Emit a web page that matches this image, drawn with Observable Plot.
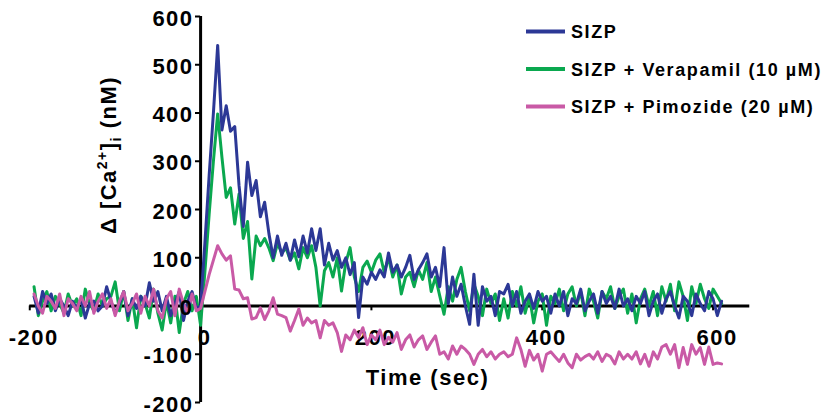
<!DOCTYPE html>
<html><head><meta charset="utf-8">
<script src="https://cdn.jsdelivr.net/npm/d3@7"></script>
<script src="https://cdn.jsdelivr.net/npm/@observablehq/plot@0.6"></script>
<style>
body{margin:0;background:#fff;}
#chart{position:relative;width:831px;height:417px;}
#chart svg text{letter-spacing:1.5px;}
</style></head><body><div id="chart"></div>
<script>
// sampling grid (sec)
const times = d3.range(-195, 611, 5);

const blue = [
20, -15, 30, 5, 25, -10, 15, 0, -20, 10,
-5, 15, -25, 5, 10, -10, 0, 40, 10, -15,
5, 30, -20, 15, -5, 20, 0, 48, 10, 30,
-10, 20, -20, 5, 30, -30, 10, 30, -5, 0,
130, 270, 400, 540, 365, 415, 362, 372, 250, 165,
298, 229, 260, 185, 215, 150, 100, 145, 105, 130,
95, 137, 102, 145, 110, 160, 115, 160, 85, 130,
95, 115, 80, 100, 65, 90, -24, 60, 45, 70,
55, 75, 60, 110, 70, 85, 60, 80, 105, 55,
75, 90, 108, 60, 80, 40, 121, 5, 60, 20,
45, 0, -38, 66, -40, 40, 10, 20, -20, 30,
25, 45, 0, 30, -15, 10, 25, -5, 30, 10,
20, -15, 25, 0, 30, -20, 15, 5, 35, -10,
10, 25, -15, 30, 5, 20, -5, 35, 0, 15,
-10, 20, 5, 30, -20, 10, 25, -15, 15, 30,
0, -25, 20, 10, -20, 25, 5, -10, 30, 15,
-20, 10];

const green = [
40, -20, 10, 30, -10, 20, 5, -15, 25, 0,
15, -20, 35, 5, -10, 25, 0, 15, 20, 50,
-10, 30, -30, 15, -45, 20, 5, -25, 35, -15,
-50, 10, -35, 20, -55, 5, 30, -10, 20, -40,
70, 190, 300, 398, 308, 225, 245, 170, 232, 140,
175, 56, 145, 125, 140, 120, 94, 130, 110, 120,
95, 110, 77, 121, 100, 125, 80, 0, 73, 90,
60, 100, 31, 90, 121, 60, 30, 80, 93, 70,
95, 108, 70, 100, 60, 85, 25, 60, 70, 40,
75, 55, 90, 30, 60, 21, -17, 40, 10, 55,
80, 30, -10, 45, 20, -20, 35, 5, 25, -30,
15, -25, 30, 0, 40, -15, 20, -35, 10, 25,
-40, 20, 5, 35, -10, 25, 40, 0, 30, -20,
35, 10, -25, 30, 15, 40, -5, 20, 35, -15,
25, -35, 15, 35, 0, 30, -20, 40, 10, 45,
-10, 50, 20, -30, 40, 5, 45, 15, -5, 35,
20, 5];

const pink = [
25, 0, -15, 20, 10, -5, 25, -20, 15, 5,
-10, 20, 0, 30, -15, 10, 25, -5, 15, -20,
10, 30, -10, 5, 25, -15, 20, 0, 35, -10,
-25, 15, 30, -20, 35, 5, -15, 25, -10, -5,
30, 65, 95, 125, 108, 95, 104, 35, 33, 15,
17, -27, -24, -4, -28, -10, 17, -17, -20, -24,
-52, -30, -6, -40, -25, -35, -30, -66, -30, -40,
-35, -55, -94, -60, -70, -50, -65, -45, -80, -60,
-70, -50, -80, -65, -75, -55, -90, -70, -60, -85,
-70, -62, -90, -75, -62, -100, -95, -110, -83, -100,
-83, -90, -100, -121, -100, -90, -105, -95, -110, -100,
-95, -105, -100, -66, -90, -125, -92, -112, -100, -135,
-100, -95, -105, -115, -100, -118, -128, -100, -112, -105,
-100, -110, -95, -115, -100, -105, -120, -95, -110, -100,
-110, -95, -120, -100, -125, -95, -110, -85, -80, -100,
-80, -128, -86, -121, -80, -100, -86, -121, -85, -121,
-118, -120];

const seriesNames = ["SIZP", "SIZP + Verapamil (10 µM)", "SIZP + Pimozide (20 µM)"];
const seriesColors = ["#2c3896", "#0aa84f", "#c95aa6"];
const xTicks = [-200, 0, 200, 400, 600];
const yTicks = [-200, -100, 0, 100, 200, 300, 400, 500, 600];
const xTitle = "Time (sec)";

// long table, drawn green, blue, pink
const rows = [];
[[green, 1], [blue, 0], [pink, 2]].forEach(([arr, k]) => {
  arr.forEach((v, i) => rows.push({t: times[i], v, s: seriesNames[k]}));
});

const font = "'Liberation Sans', Arial, Helvetica, sans-serif";
const plot = Plot.plot({
  width: 831, height: 417,
  marginLeft: 25, marginRight: 80, marginTop: 16, marginBottom: 15,
  x: {domain: [-205, 645], axis: null},
  y: {domain: [-200, 600], axis: null},
  color: {domain: seriesNames, range: seriesColors},
  style: {fontFamily: font, fontWeight: "bold", background: "white", color: "black", overflow: "visible"},
  marks: [
    Plot.ruleY([0], {x1: -200, x2: 643, stroke: "black", strokeWidth: 3}),
    Plot.ruleX([0], {y1: -200, y2: 600, stroke: "black", strokeWidth: 3}),
    Plot.ruleY(yTicks, {x1: 0, x2: -6, stroke: "black", strokeWidth: 2}),
    Plot.ruleX(xTicks.filter(d => d !== 0), {y1: 0, y2: -10, stroke: "black", strokeWidth: 2}),
    Plot.text(xTicks, {x: d => d, y: 0, dx: 4, dy: 32, text: d => String(d), fontSize: 22, fontWeight: "bold", fill: "black"}),
    Plot.line(rows, {x: "t", y: "v", z: "s", stroke: "s", strokeWidth: 3, strokeLinejoin: "round"}),
    Plot.text(yTicks, {x: 0, y: d => d, dx: -7, dy: 2, text: d => String(d), textAnchor: "end", fontSize: 22, fontWeight: "bold", fill: "black"}),
    Plot.text([xTitle], {frameAnchor: "bottom", dx: 39, dy: -18, text: d => d, fontSize: 22, fontWeight: "bold", fill: "black"})
  ]
});
document.getElementById("chart").appendChild(plot);

const svg = d3.select(plot);
// y-axis title with superscript / subscript
const yl = svg.append("text")
  .attr("transform", "translate(116,155) rotate(-90)")
  .attr("text-anchor", "middle")
  .attr("font-family", font).attr("font-weight", "bold").attr("font-size", 22).attr("fill", "black");
yl.append("tspan").text("Δ [Ca");
yl.append("tspan").attr("font-size", 14).attr("dy", -9).text("2+");
yl.append("tspan").attr("dy", 9).text("]");
yl.append("tspan").attr("font-size", 14).attr("dy", 5).text("i");
yl.append("tspan").attr("dy", -5).text(" (nM)");

// legend
const lg = svg.append("g").attr("text-anchor", "start");
seriesNames.forEach((name, i) => {
  const y = 31.5 + i * 37.5;
  lg.append("line").attr("x1", 526).attr("x2", 565).attr("y1", y).attr("y2", y)
    .attr("stroke", seriesColors[i]).attr("stroke-width", 4);
  lg.append("text").attr("x", 571).attr("y", y + 6.5).attr("text-anchor", "start")
    .attr("font-family", font).attr("font-weight", "bold").attr("font-size", 18)
    .attr("fill", "black").style("letter-spacing", "1.6px").text(name);
});
</script></body></html>
